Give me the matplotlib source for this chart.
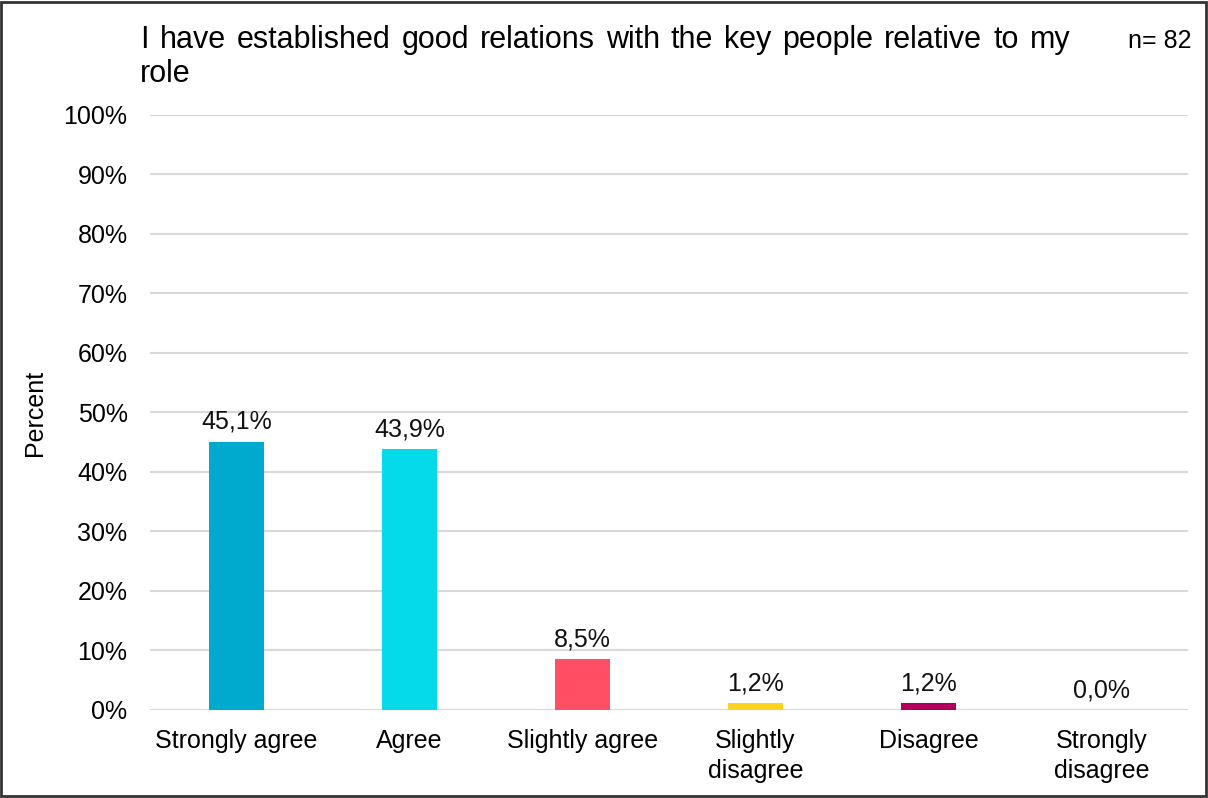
import matplotlib.pyplot as plt
from matplotlib.patches import Rectangle
from matplotlib.ticker import FuncFormatter

plt.rcParams['font.family'] = ['Liberation Sans', 'DejaVu Sans']

categories = ["Strongly agree", "Agree", "Slightly agree", "Slightly\ndisagree", "Disagree", "Strongly\ndisagree"]
values = [45.1, 43.9, 8.5, 1.2, 1.2, 0.0]
colors = ["#00AACE", "#05DAEA", "#FF4F64", "#FFD21F", "#B3005F", "#7F7F7F"]
title_lines = ["I have established good relations with the key people relative to my", "role"]
n_label = "n= 82"

fig = plt.figure(figsize=(12.08, 7.98), dpi=100)
ax = fig.add_axes([0.124, 0.1103, 0.8595, 0.7456])

x = range(len(categories))
ax.bar(x, values, width=0.32, color=colors, zorder=3)

for i, v in enumerate(values):
    ax.text(i, v + 1.3, f"{v:.1f}%".replace(".", ","), ha="center", va="bottom",
            fontsize=18, color="#111111")

ax.set_xlim(-0.5, len(categories) - 0.5)
ax.set_ylim(0, 100)
ax.set_yticks(range(0, 101, 10))
ax.yaxis.set_major_formatter(FuncFormatter(lambda v, p: f"{v:.0f}%"))
ax.set_xticks(list(x))
ax.set_xticklabels(categories, fontsize=18, linespacing=1.3)
ax.tick_params(axis="y", labelsize=18, length=0, pad=16)
ax.tick_params(axis="x", length=0, pad=14)
ax.grid(axis="y", color="#D9D9D9", linewidth=1.5, zorder=0)
for s in ax.spines.values():
    s.set_visible(False)
ax.set_ylabel("Percent", fontsize=18, labelpad=12)

# first title line spread out to the width of the text block
words = title_lines[0].split()
x0, x1 = 0.116, 0.886
renderer = fig.canvas.get_renderer()
widths = []
for w in words:
    t = fig.text(0, 0, w, fontsize=22)
    widths.append(t.get_window_extent(renderer).width / fig.bbox.width)
    t.remove()
gap = (x1 - x0 - sum(widths)) / (len(words) - 1)
pos = x0
for w, wd in zip(words, widths):
    fig.text(pos, 0.950, w, ha="left", va="center", fontsize=22)
    pos += wd + gap
fig.text(x0, 0.907, title_lines[1], ha="left", va="center", fontsize=22)

fig.text(0.986, 0.948, n_label, ha="right", va="center", fontsize=18)

# frame around the whole figure
fig.patches.append(Rectangle((0.001, 0.002), 0.997, 0.996, transform=fig.transFigure,
                             fill=False, edgecolor="#333333", linewidth=2))

fig.savefig("out.png", dpi=100)
